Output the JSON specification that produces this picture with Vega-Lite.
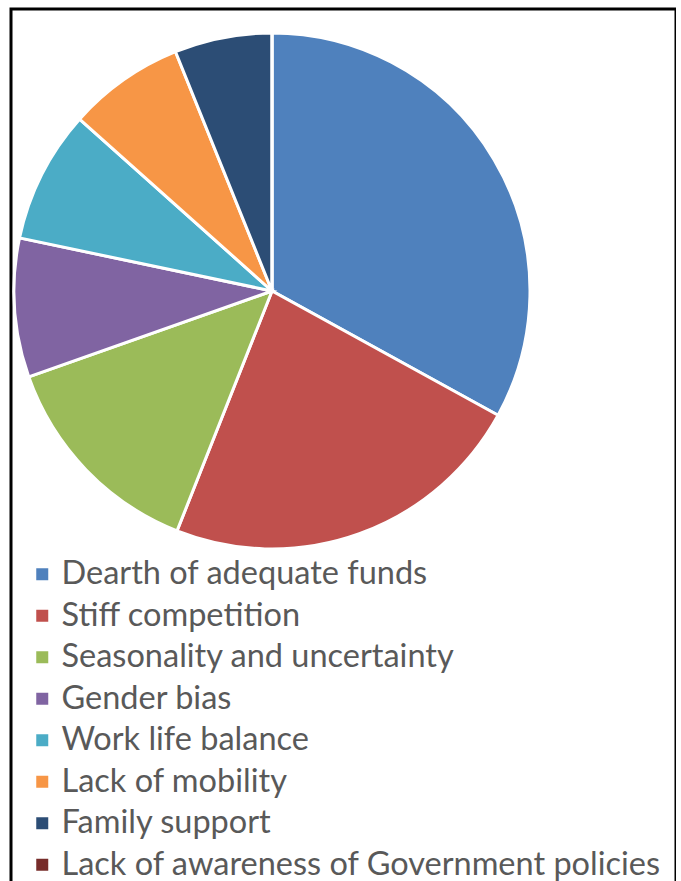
{
  "$schema": "https://vega.github.io/schema/vega-lite/v6.json",
  "width": 665,
  "height": 900,
  "autosize": "none",
  "padding": {"left": 11, "top": 9, "right": 0, "bottom": 0},
  "background": "white",
  "view": {"stroke": "black", "strokeWidth": 3, "fill": "white"},
  "config": {
    "view": {"stroke": "black", "strokeWidth": 3},
    "font": "Lato"
  },
  "data": {
    "values": [
      {"category": "Dearth of adequate funds", "value": 33.0, "order": 1},
      {"category": "Stiff competition", "value": 23.0, "order": 2},
      {"category": "Seasonality and uncertainty", "value": 13.6, "order": 3},
      {"category": "Gender bias", "value": 8.7, "order": 4},
      {"category": "Work life balance", "value": 8.3, "order": 5},
      {"category": "Lack of mobility", "value": 7.3, "order": 6},
      {"category": "Family support", "value": 6.1, "order": 7},
      {"category": "Lack of awareness of Government policies", "value": 0, "order": 8}
    ]
  },
  "mark": {"type": "arc", "x": 261, "y": 282, "outerRadius": 258, "stroke": "white", "strokeWidth": 3},
  "encoding": {
    "theta": {"field": "value", "type": "quantitative", "stack": true},
    "order": {"field": "order", "type": "quantitative"},
    "color": {
      "field": "category",
      "type": "nominal",
      "sort": ["Dearth of adequate funds", "Stiff competition", "Seasonality and uncertainty", "Gender bias", "Work life balance", "Lack of mobility", "Family support", "Lack of awareness of Government policies"],
      "scale": {
        "domain": ["Dearth of adequate funds", "Stiff competition", "Seasonality and uncertainty", "Gender bias", "Work life balance", "Lack of mobility", "Family support", "Lack of awareness of Government policies"],
        "range": ["#4F81BD", "#C0504D", "#9BBB59", "#8064A2", "#4BACC6", "#F79646", "#2C4D75", "#772C2A"]
      },
      "legend": {
        "title": null,
        "orient": "none",
        "legendX": 15,
        "legendY": 549,
        "symbolType": "square",
        "symbolSize": 144,
        "symbolStrokeWidth": 0,
        "labelFontSize": 32.5,
        "labelColor": "#595959",
        "labelOffset": 3,
        "labelLimit": 700,
        "rowPadding": 8.5,
        "padding": 0
      }
    }
  }
}
